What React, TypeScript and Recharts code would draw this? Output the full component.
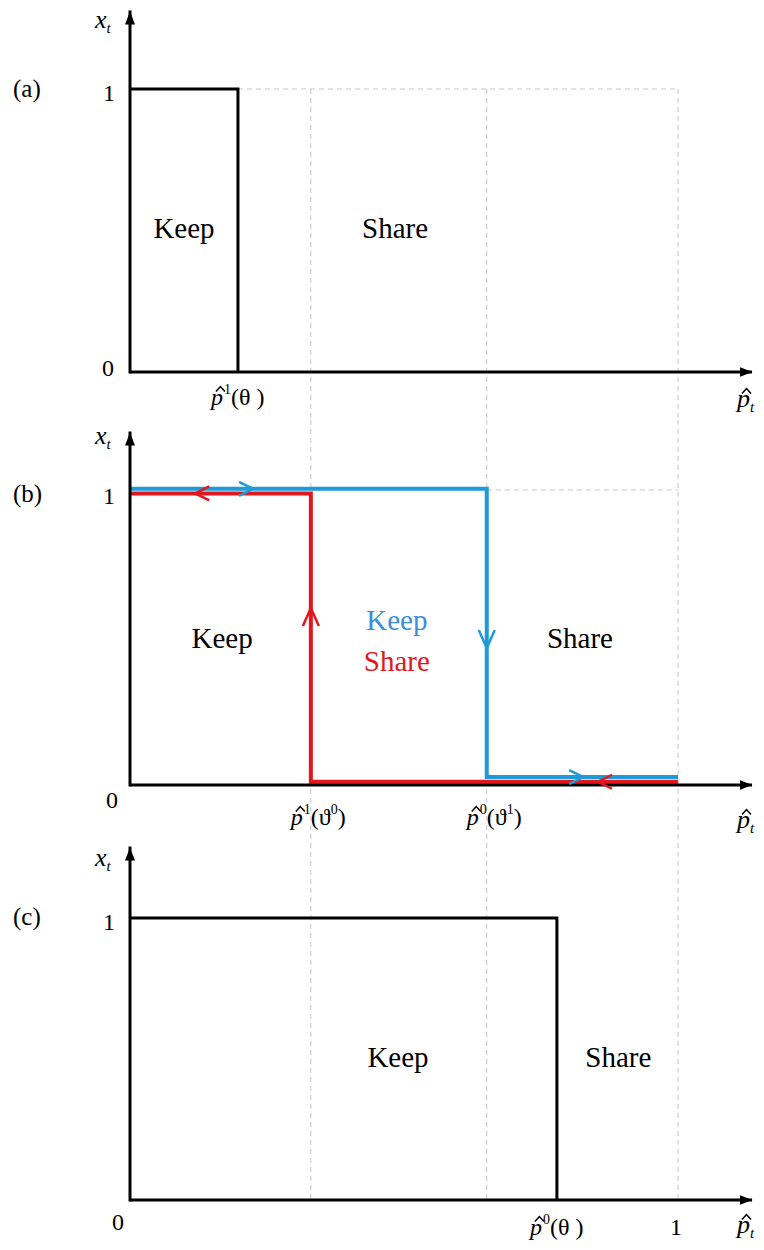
import React from "react";
import { LineChart, Line, XAxis, YAxis, ReferenceLine, ReferenceDot } from "recharts";

const SERIF = '"Liberation Serif", "Times New Roman", serif';
const BLUE = "#1e9ad8";
const RED = "#e4161d";
const GUIDE = "#c6c6c6";

const X_MAX = 1.135;

// dashed guides running through all three panels
const guideXs = [0.33, 0.651, 1];

// (a) single threshold
const aStepX = [0, 0.197, 0.197];
const aStepY = [1, 1, 0];

// (b) hysteresis: blue path going right, red path coming back
const bBlueX = [0, 0.651, 0.651, 1];
const bBlueY = [1.004, 1.004, 0.027, 0.027];
const bRedX = [0, 0.33, 0.33, 1];
const bRedY = [0.988, 0.988, 0.011, 0.011];

// direction marks on the (b) paths
const bArrowX = [0.2245, 0.119, 0.33, 0.651, 0.827, 0.854];
const bArrowY = [1.004, 0.988, 0.6, 0.464, 0.027, 0.011];
const bArrowDir = ["right", "left", "up", "down", "right", "left"];
const bArrowPath = ["blue", "red", "red", "blue", "blue", "red"];

// (c) single threshold
const cStepX = [0, 0.779, 0.779];
const cStepY = [1, 1, 0];

// region captions
const aRegionText = ["Keep", "Share"];
const aRegionX = [0.0985, 0.4836];
const aRegionY = [0.509, 0.509];
const bRegionText = ["Keep", "Keep", "Share", "Share"];
const bRegionX = [0.168, 0.487, 0.487, 0.821];
const bRegionY = [0.498, 0.559, 0.42, 0.498];
const bRegionTone = ["black", "blue", "red", "black"];
const cRegionText = ["Keep", "Share"];
const cRegionX = [0.489, 0.891];
const cRegionY = [0.507, 0.507];

// x-axis tick labels: p̂^sup(arg^argSup)
type TickDef = { value: number; sup?: string; arg?: string; argSup?: string; plain?: string };
const aTicks: TickDef[] = [{ value: 0.197, sup: "1", arg: "θ " }];
const bTicks: TickDef[] = [
  { value: 0.33, sup: "1", arg: "ϑ", argSup: "0" },
  { value: 0.651, sup: "0", arg: "ϑ", argSup: "1" },
];
const cTicks: TickDef[] = [
  { value: 0.779, sup: "0", arg: "θ " },
  { value: 1, plain: "1" },
];

const toPoints = (xs: number[], ys: number[]) => xs.map((x, i) => ({ x, y: ys[i] }));
const tone = (t: string) => (t === "blue" ? BLUE : t === "red" ? RED : "#000");

type PanelCfg = {
  id: string;
  letter: string;
  height: number;
  top: number;
  axisH: number;
  yMax: number;
  tickDy: number;
  tickShift: number;
  zeroDx: number;
  zeroDy: number;
  oneDy: number;
  letterDy: number;
  xtDy: number;
  ptDy: number;
};

const panelA: PanelCfg = {
  id: "a", letter: "(a)", height: 418, top: 12, axisH: 46, yMax: 1.272,
  tickDy: 33, tickShift: 0, zeroDx: -22, zeroDy: 4, oneDy: 12, letterDy: 8, xtDy: 16, ptDy: 35,
};
const panelB: PanelCfg = {
  id: "b", letter: "(b)", height: 425, top: 15, axisH: 58, yMax: 1.193,
  tickDy: 40, tickShift: 7, zeroDx: -18, zeroDy: 23, oneDy: 14, letterDy: 12, xtDy: 11, ptDy: 43,
};
const panelC: PanelCfg = {
  id: "c", letter: "(c)", height: 407, top: 5, axisH: 50, yMax: 1.248,
  tickDy: 35, tickShift: 0, zeroDx: -12, zeroDy: 30, oneDy: 12, letterDy: 7, xtDy: 18, ptDy: 33,
};

function Hat({ x, y }: { x: number; y: number }) {
  return (
    <path
      d={`M${x + 5},${y - 13.5} L${x + 9.5},${y - 18.5} L${x + 14},${y - 13.5}`}
      fill="none"
      stroke="#000"
      strokeWidth={1.5}
    />
  );
}

function HatLabel({ x, y, def }: { x: number; y: number; def: TickDef }) {
  return (
    <g>
      <text x={x} y={y} fontFamily={SERIF} fontSize={24} fill="#000">
        <tspan fontStyle="italic">p</tspan>
        <tspan fontSize={14} dx={1} dy={-11}>{def.sup}</tspan>
        <tspan dy={11}>(</tspan>
        <tspan>{def.arg}</tspan>
        {def.argSup ? <tspan fontSize={14} dy={-11}>{def.argSup}</tspan> : null}
        <tspan dy={def.argSup ? 11 : 0}>)</tspan>
      </text>
      <Hat x={x} y={y} />
    </g>
  );
}

function chevron(dir: string, color: string) {
  return (p: any) => {
    const { cx, cy } = p;
    const L = dir === "up" || dir === "down" ? 18 : 14;
    const W = dir === "up" || dir === "down" ? 8 : 7;
    let d = "";
    if (dir === "right") d = `M${cx - L},${cy - W} L${cx},${cy} L${cx - L},${cy + W}`;
    if (dir === "left") d = `M${cx + L},${cy - W} L${cx},${cy} L${cx + L},${cy + W}`;
    if (dir === "up") d = `M${cx - W},${cy + L} L${cx},${cy} L${cx + W},${cy + L}`;
    if (dir === "down") d = `M${cx - W},${cy - L} L${cx},${cy} L${cx + W},${cy - L}`;
    return <path d={d} fill="none" stroke={color} strokeWidth={2.5} />;
  };
}

function caption(text: string, color: string) {
  return (p: any) => (
    <text
      x={p.cx}
      y={p.cy}
      dy="0.35em"
      textAnchor="middle"
      fontFamily={SERIF}
      fontSize={29}
      fill={color}
    >
      {text}
    </text>
  );
}

function Panel({ cfg, ticks, children }: { cfg: PanelCfg; ticks: TickDef[]; children: React.ReactNode }) {
  const markerId = `axis-arrow-${cfg.id}`;

  const renderXTick = (p: any) => {
    const def = ticks.find((t) => Math.abs(t.value - p.payload.value) < 1e-6);
    if (!def) return <g />;
    const y = p.y + cfg.tickDy;
    if (def.plain) {
      return (
        <text x={p.x - 2} y={y} textAnchor="middle" fontFamily={SERIF} fontSize={24} fill="#000">
          {def.plain}
        </text>
      );
    }
    return <HatLabel x={p.x - 27 + cfg.tickShift} y={y} def={def} />;
  };

  const renderYTick = (p: any) => {
    if (p.payload.value === 1) {
      return (
        <g>
          <text x={p.x - 21} y={p.y + cfg.oneDy} textAnchor="middle" fontFamily={SERIF} fontSize={24} fill="#000">
            1
          </text>
          <text x={13} y={p.y + cfg.letterDy} fontFamily={SERIF} fontSize={25} fill="#000">
            {cfg.letter}
          </text>
        </g>
      );
    }
    return (
      <text x={p.x + cfg.zeroDx} y={p.y + cfg.zeroDy} textAnchor="middle" fontFamily={SERIF} fontSize={24} fill="#000">
        0
      </text>
    );
  };

  const renderXt = (p: any) => {
    const vb = p.viewBox || { x: 0, y: cfg.top, width: 130, height: 0 };
    const x = vb.x + vb.width - 35;
    const y = vb.y + cfg.xtDy;
    return (
      <text x={x} y={y} fontFamily={SERIF} fontSize={26} fontStyle="italic" fill="#000">
        x<tspan fontSize={15} dy={5}>t</tspan>
      </text>
    );
  };

  const renderPt = (p: any) => {
    const vb = p.viewBox || { x: 130, y: 0, width: 622, height: 0 };
    const x = vb.x + vb.width - 15;
    const y = vb.y + cfg.ptDy;
    return (
      <g>
        <text x={x} y={y} fontFamily={SERIF} fontSize={26} fontStyle="italic" fill="#000">
          p<tspan fontSize={15} dy={5}>t</tspan>
        </text>
        <Hat x={x} y={y} />
      </g>
    );
  };

  return (
    <LineChart
      width={764}
      height={cfg.height}
      margin={{ top: cfg.top, right: 12, bottom: 0, left: 0 }}
    >
      <defs>
        <marker
          id={markerId}
          viewBox="0 0 13 10"
          refX={12.5}
          refY={5}
          markerWidth={13}
          markerHeight={10}
          markerUnits="userSpaceOnUse"
          orient="auto-start-reverse"
        >
          <path d="M0,0 L13,5 L0,10 Z" fill="#000" />
        </marker>
      </defs>
      <XAxis
        type="number"
        dataKey="x"
        domain={[0, X_MAX]}
        ticks={ticks.map((t) => t.value)}
        interval={0}
        height={cfg.axisH}
        tickLine={false}
        tickSize={0}
        tickMargin={0}
        tick={renderXTick}
        axisLine={{ stroke: "#000", strokeWidth: 3, markerEnd: `url(#${markerId})` }}
        label={renderPt}
      />
      <YAxis
        type="number"
        domain={[0, cfg.yMax]}
        ticks={[0, 1]}
        interval={0}
        width={130}
        tickLine={false}
        tickSize={0}
        tickMargin={0}
        tick={renderYTick}
        axisLine={{ stroke: "#000", strokeWidth: 3, strokeLinecap: "square", markerStart: `url(#${markerId})` }}
        label={renderXt}
      />
      {children}
    </LineChart>
  );
}

function guideLines(fromY: number, toY: number) {
  return guideXs.map((gx) => (
    <ReferenceLine
      key={`g-${gx}`}
      segment={[{ x: gx, y: fromY }, { x: gx, y: toY }]}
      stroke={GUIDE}
      strokeWidth={1}
      strokeDasharray="5 4"
      ifOverflow="visible"
    />
  ));
}

export default function App() {
  return (
    <div style={{ position: "absolute", left: 0, top: 0, width: 764, height: 1250, background: "#fff" }}>
      <Panel cfg={panelA} ticks={aTicks}>
        {[
          ...guideLines(1, -1),
          <ReferenceLine
            key="ha"
            segment={[{ x: aStepX[1], y: 1 }, { x: 1, y: 1 }]}
            stroke={GUIDE}
            strokeDasharray="5 4"
            ifOverflow="visible"
          />,
          <Line
            key="la"
            data={toPoints(aStepX, aStepY)}
            dataKey="y"
            type="linear"
            stroke="#000"
            strokeWidth={3}
            dot={false}
            isAnimationActive={false}
          />,
          ...aRegionText.map((t, i) => (
            <ReferenceDot key={`ra${i}`} x={aRegionX[i]} y={aRegionY[i]} r={0} shape={caption(t, "#000")} />
          )),
        ]}
      </Panel>
      <Panel cfg={panelB} ticks={bTicks}>
        {[
          ...guideLines(2, -1),
          <ReferenceLine
            key="hb"
            segment={[{ x: bBlueX[1], y: 1 }, { x: 1, y: 1 }]}
            stroke={GUIDE}
            strokeDasharray="5 4"
            ifOverflow="visible"
          />,
          <Line
            key="lb"
            data={toPoints(bBlueX, bBlueY)}
            dataKey="y"
            type="linear"
            stroke={BLUE}
            strokeWidth={4}
            dot={false}
            isAnimationActive={false}
          />,
          <Line
            key="lr"
            data={toPoints(bRedX, bRedY)}
            dataKey="y"
            type="linear"
            stroke={RED}
            strokeWidth={4}
            dot={false}
            isAnimationActive={false}
          />,
          ...bArrowX.map((ax, i) => (
            <ReferenceDot
              key={`ab${i}`}
              x={ax}
              y={bArrowY[i]}
              r={0}
              shape={chevron(bArrowDir[i], tone(bArrowPath[i]))}
            />
          )),
          ...bRegionText.map((t, i) => (
            <ReferenceDot
              key={`rb${i}`}
              x={bRegionX[i]}
              y={bRegionY[i]}
              r={0}
              shape={caption(t, bRegionTone[i] === "blue" ? "#3b8fd8" : tone(bRegionTone[i]))}
            />
          )),
        ]}
      </Panel>
      <Panel cfg={panelC} ticks={cTicks}>
        {[
          ...guideLines(2, 0),
          <Line
            key="lc"
            data={toPoints(cStepX, cStepY)}
            dataKey="y"
            type="linear"
            stroke="#000"
            strokeWidth={3}
            dot={false}
            isAnimationActive={false}
          />,
          ...cRegionText.map((t, i) => (
            <ReferenceDot key={`rc${i}`} x={cRegionX[i]} y={cRegionY[i]} r={0} shape={caption(t, "#000")} />
          )),
        ]}
      </Panel>
    </div>
  );
}
